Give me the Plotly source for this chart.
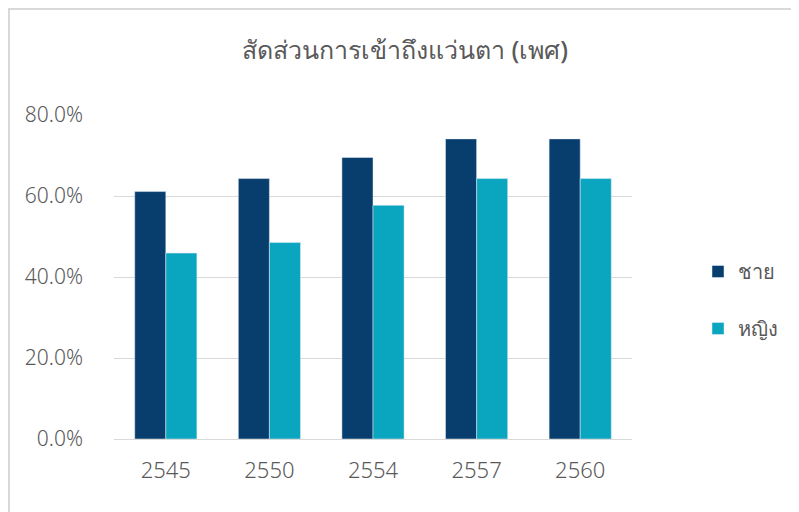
import plotly.graph_objects as go

categories = ["2545", "2550", "2554", "2557", "2560"]
male = [0.611, 0.643, 0.695, 0.741, 0.741]
female = [0.459, 0.485, 0.577, 0.643, 0.643]
series_names = ["ชาย", "หญิง"]
title_text = "สัดส่วนการเข้าถึงแว่นตา (เพศ)"

# page body has an 8px margin, so the figure sits at (8, 8)
W, H = 791, 504
ml, mt = 106, 107
pw, ph = 518, 324
mr, mb = W - ml - pw, H - mt - ph

fig = go.Figure()
fig.add_trace(go.Bar(x=categories, y=male, name=series_names[0], marker_color="#073E6E",
                     legendgroup="a"))
fig.add_trace(go.Bar(x=categories, y=female, name=series_names[1], marker_color="#0AA5BF",
                     legendgroup="b"))

font_fam = "Noto Sans, DejaVu Sans, sans-serif"
fig.update_layout(
    width=W, height=H,
    margin=dict(l=ml, r=mr, t=mt, b=mb, autoexpand=False),
    paper_bgcolor="white", plot_bgcolor="white",
    barmode="group", bargap=0.4, bargroupgap=0,
    title=dict(text=title_text, x=(405 - 8) / W, xanchor="center", y=1 - 42 / H, yanchor="middle",
               xref="container", yref="container",
               font=dict(size=25, color="#595959", family=font_fam, weight=500)),
    font=dict(family=font_fam, color="#595959", size=16),
    legend=dict(xref="container", yref="container",
                x=690 / W, y=1 - 292 / H, xanchor="left", yanchor="middle",
                font=dict(size=20, color="#595959"), tracegroupgap=28,
                itemwidth=30),
    showlegend=True,
)
fig.update_yaxes(range=[0, 0.8], dtick=0.2, tickformat=".1%", showgrid=True,
                 gridcolor="#D9D9D9", gridwidth=1, zeroline=False, showline=False,
                 ticks="", ticklabelstandoff=30,
                 tickfont=dict(size=21, color="#595959", weight=300))
fig.update_xaxes(showline=True, linecolor="#D9D9D9", linewidth=1, ticks="",
                 ticklabelstandoff=12, tickfont=dict(size=22, color="#595959", weight=300))
# outer chart border (top and left edges visible)
fig.add_shape(type="rect", xref="paper", yref="paper",
              x0=(1 - ml) / pw, x1=(W + 20 - ml) / pw,
              y0=-(mb + 20) / ph, y1=1 + (mt - 1) / ph,
              line=dict(color="#D9D9D9", width=2), fillcolor="rgba(0,0,0,0)", layer="below")
fig.write_html("out.html")
